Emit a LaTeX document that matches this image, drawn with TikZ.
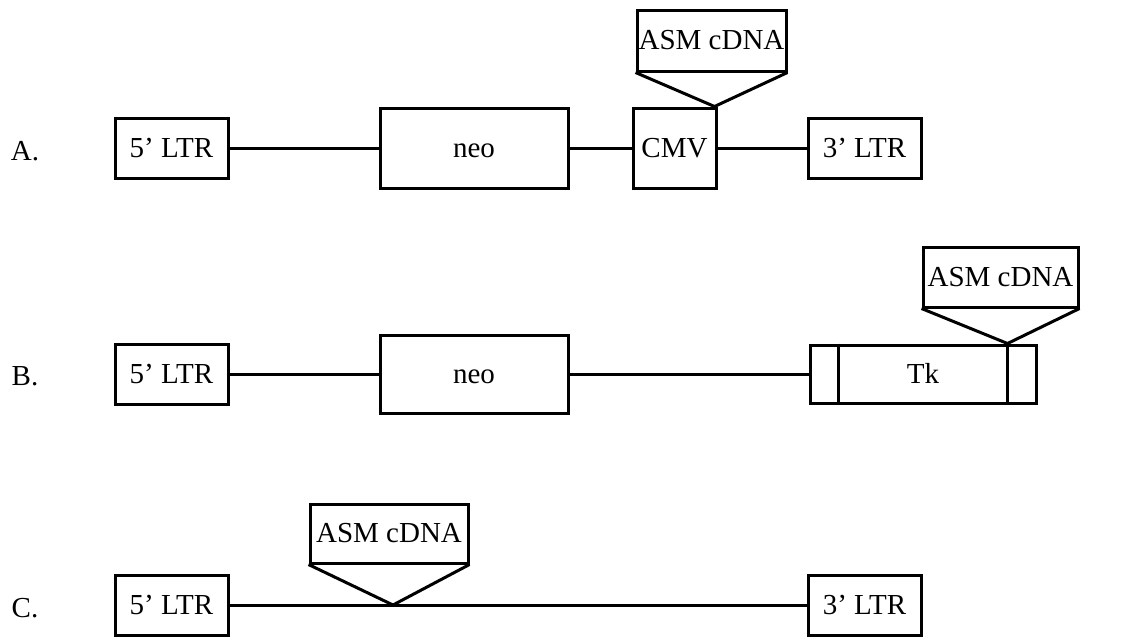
\documentclass[tikz,border=0pt]{standalone}
\usepackage{fontspec}
\setmainfont{Liberation Serif}
\usetikzlibrary{calc}
\begin{document}
\begin{tikzpicture}[x=1pt,y=-1pt,
  box/.style={draw,line width=3pt,rectangle,inner sep=0pt,text height=20pt,text depth=2pt,font=\fontsize{29}{32}\selectfont},
  conn/.style={line width=3pt},
  ins/.style={line width=3pt,line join=round},
  lbl/.style={font=\fontsize{29}{32}\selectfont,inner sep=0pt,text height=20pt,text depth=2pt}]
\useasboundingbox (0,0) rectangle (1126,637);
% Row A
\node[lbl] (lA) at (25,151) {A.};
\node[box,minimum width=113pt,minimum height=60pt] (a5) at (171.5,148) {5' LTR};
\node[box,minimum width=188pt,minimum height=80pt] (aneo) at (474,148) {neo};
\node[box,minimum width=83pt,minimum height=80pt] (acmv) at (674.5,148) {CMV};
\node[box,minimum width=113pt,minimum height=60pt] (a3) at (864.5,148) {3' LTR};
\node[box,minimum width=149pt,minimum height=61pt] (aasm) at (711.5,40.5) {ASM cDNA};
\coordinate (apexA) at ($(acmv.north east)+(-3,0)$);
\draw[conn] (a5) -- (aneo);
\draw[conn] (aneo) -- (acmv);
\draw[conn] (acmv) -- (a3);
\draw[ins] (aasm.south west) -- (apexA) -- (aasm.south east);
% Row B
\node[lbl] (lB) at (25,376) {B.};
\node[box,minimum width=113pt,minimum height=60pt] (b5) at (171.5,374) {5' LTR};
\node[box,minimum width=188pt,minimum height=78pt] (bneo) at (474,374) {neo};
\node[box,minimum width=226pt,minimum height=58pt] (btk) at (923,374) {Tk};
\draw[line width=3pt] ($(btk.north west)+(30,0)$) -- ($(btk.south west)+(30,0)$);
\draw[line width=3pt] ($(btk.north east)+(-30,0)$) -- ($(btk.south east)+(-30,0)$);
\node[box,minimum width=155pt,minimum height=60pt] (basm) at (1000.5,277) {ASM cDNA};
\coordinate (apexB) at ($(btk.north east)+(-30,0)$);
\draw[conn] (b5) -- (bneo);
\draw[conn] (bneo) -- (btk);
\draw[ins] (basm.south west) -- (apexB) -- (basm.south east);
% Row C
\node[lbl] (lC) at (25,608) {C.};
\node[box,minimum width=113pt,minimum height=60pt] (c5) at (171.5,605) {5' LTR};
\node[box,minimum width=113pt,minimum height=60pt] (c3) at (864.5,605) {3' LTR};
\node[box,minimum width=158pt,minimum height=59pt] (casm) at (389,533.5) {ASM cDNA};
\coordinate (apexC) at (393,605);
\draw[conn] (c5) -- (c3);
\draw[ins] (casm.south west) -- (apexC) -- (casm.south east);
\end{tikzpicture}
\end{document}
